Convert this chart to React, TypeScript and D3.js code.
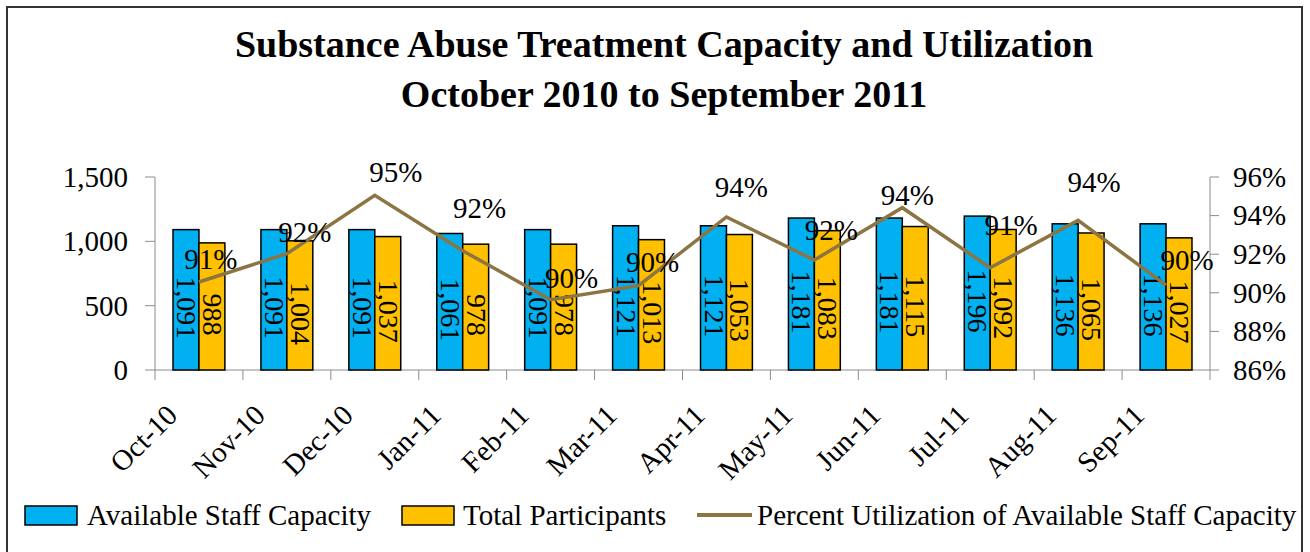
import React from 'react';
import * as d3 from 'd3';

const months = ['Oct-10', 'Nov-10', 'Dec-10', 'Jan-11', 'Feb-11', 'Mar-11', 'Apr-11', 'May-11', 'Jun-11', 'Jul-11', 'Aug-11', 'Sep-11'];
const capacity = [1091, 1091, 1091, 1061, 1091, 1121, 1121, 1181, 1181, 1196, 1136, 1136];
const participants = [988, 1004, 1037, 978, 978, 1013, 1053, 1083, 1115, 1092, 1065, 1027];
const utilization = [90.56, 92.03, 95.05, 92.18, 89.64, 90.37, 93.93, 91.7, 94.41, 91.3, 93.75, 90.4];
const leftTicks = [0, 500, 1000, 1500];
const rightTicks = [86, 88, 90, 92, 94, 96];
const seriesNames = ['Available Staff Capacity', 'Total Participants', 'Percent Utilization of Available Staff Capacity'];
const titleLines = ['Substance Abuse Treatment Capacity and Utilization', 'October 2010 to September 2011'];

// label layout nudges (dx, dy) for the percent labels, relative to their points
const pctNudges: [number, number][] = [[12, -13], [18, -12], [21, -13], [17, -33], [21, -12], [14, -14], [15, -20], [17, -20], [5, -3], [21, -33], [16, -28], [21, -15]];

const BLUE = '#00B0F0';
const ORANGE = '#FFC000';
const LINE = '#8C7443';
const AXIS = '#8c8c8c';
const FONT = '"Liberation Serif", "Times New Roman", serif';

export default function App() {
  const W = 1310, H = 552;
  const left = 155, right = 1210, top = 177, bottom = 370;

  const x = d3.scaleBand<string>().domain(months).range([left, right]).paddingInner(0.41).paddingOuter(0.205);
  const y = d3.scaleLinear().domain([0, 1500]).range([bottom, top]);
  const y2 = d3.scaleLinear().domain([86, 96]).range([bottom, top]);
  const bw = x.bandwidth() / 2;
  const step = x.step();
  const fmt = d3.format(',');

  const line = d3.line<number>()
    .x((_, i) => (x(months[i]) as number) + bw)
    .y((d) => y2(d));

  const fs = 29;

  return (
    <svg width={W} height={H} style={{ position: 'absolute', left: 0, top: 0, background: '#fff' }} fontFamily={FONT}>
      <rect x={0} y={0} width={W} height={H} fill="#fff" />
      <rect x={7} y={7} width={1295} height={570} fill="none" stroke="#333" strokeWidth={2} />

      {titleLines.map((t, i) => (
        <text key={t} x={664} y={57 + i * 50} textAnchor="middle" fontWeight="bold" fontSize={38}>{t}</text>
      ))}

      {/* left axis */}
      <line x1={left} x2={left} y1={top} y2={bottom} stroke={AXIS} strokeWidth={1} />
      {leftTicks.map((t) => (
        <g key={t}>
          <line x1={left - 10} x2={left} y1={y(t)} y2={y(t)} stroke={AXIS} />
          <text x={128} y={y(t)} dy="0.34em" textAnchor="end" fontSize={fs}>{fmt(t)}</text>
        </g>
      ))}

      {/* right axis */}
      <line x1={right} x2={right} y1={top} y2={bottom} stroke={AXIS} strokeWidth={1} />
      {rightTicks.map((t) => (
        <g key={t}>
          <line x1={right} x2={right + 9} y1={y2(t)} y2={y2(t)} stroke={AXIS} />
          <text x={1233} y={y2(t)} dy="0.34em" textAnchor="start" fontSize={fs}>{t}%</text>
        </g>
      ))}

      {/* bottom axis */}
      <line x1={left} x2={right} y1={bottom} y2={bottom} stroke={AXIS} />
      {d3.range(months.length + 1).map((i) => (
        <line key={i} x1={left + i * step} x2={left + i * step} y1={bottom} y2={bottom + 10} stroke={AXIS} />
      ))}
      {months.map((m) => {
        const cx = (x(m) as number) + bw;
        return (
          <text key={m} transform={`translate(${cx - 20},${417}) rotate(-45)`} textAnchor="end" fontSize={fs}>{m}</text>
        );
      })}

      {/* bars */}
      {months.map((m, i) => {
        const x0 = x(m) as number;
        return (
          <g key={m}>
            <rect x={x0} y={y(capacity[i])} width={bw} height={bottom - y(capacity[i])} fill={BLUE} stroke="#000" strokeWidth={1.5} />
            <rect x={x0 + bw} y={y(participants[i])} width={bw} height={bottom - y(participants[i])} fill={ORANGE} stroke="#000" strokeWidth={1.5} />
          </g>
        );
      })}

      {/* bar labels */}
      {months.map((m, i) => {
        const x0 = x(m) as number;
        const c1 = x0 + bw / 2;
        const c2 = x0 + bw * 1.5;
        const m1 = (y(capacity[i]) + bottom) / 2 + 8;
        const m2 = (y(participants[i]) + bottom) / 2 + 8;
        return (
          <g key={m}>
            <text transform={`translate(${c1},${m1}) rotate(90)`} textAnchor="middle" dy="0.32em" fontSize={28}>{fmt(capacity[i])}</text>
            <text transform={`translate(${c2},${m2}) rotate(90)`} textAnchor="middle" dy="0.32em" fontSize={28}>{fmt(participants[i])}</text>
          </g>
        );
      })}

      {/* line */}
      <path d={line(utilization) as string} fill="none" stroke={LINE} strokeWidth={3.5} strokeLinejoin="miter" />
      {utilization.map((v, i) => {
        const cx = (x(months[i]) as number) + bw;
        return (
          <text key={i} x={cx + pctNudges[i][0]} y={y2(v) + pctNudges[i][1]} textAnchor="middle" fontSize={fs}>{Math.round(v)}%</text>
        );
      })}

      {/* legend */}
      <g fontSize={fs}>
        <rect x={25} y={506} width={52} height={19} fill={BLUE} stroke="#000" strokeWidth={1.5} />
        <text x={87} y={525}>{seriesNames[0]}</text>
        <rect x={402} y={506} width={52} height={19} fill={ORANGE} stroke="#000" strokeWidth={1.5} />
        <text x={463} y={525}>{seriesNames[1]}</text>
        <line x1={697} x2={752} y1={515} y2={515} stroke={LINE} strokeWidth={4} />
        <text x={757} y={525}>{seriesNames[2]}</text>
      </g>
    </svg>
  );
}
